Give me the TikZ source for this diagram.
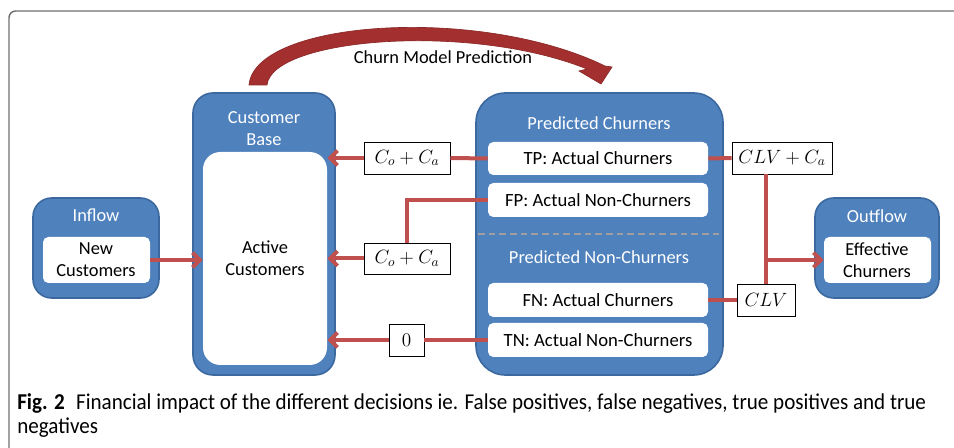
\documentclass[tikz,border=0pt]{standalone}
\usepackage{fontspec}
\setmainfont{Carlito}
\newfontfamily\capfont[FakeStretch=0.93]{Carlito}
\usetikzlibrary{arrows.meta,fit}
\definecolor{bfill}{HTML}{4F81BD}
\definecolor{bdraw}{HTML}{3A689F}
\definecolor{rline}{HTML}{C0504D}
\definecolor{darr}{HTML}{A3302F}
\definecolor{framecol}{HTML}{707070}
\begin{document}
\begin{tikzpicture}[x=0.75pt,y=-0.75pt,
  bluebox/.style={fill=bfill, draw=bdraw, line width=1.2pt, inner sep=0pt},
  whitebox/.style={fill=white, draw=none, inner sep=0pt, rounded corners=4pt},
  costbox/.style={fill=white, draw=black, line width=0.6pt, inner sep=0pt},
  txt/.style={font=\fontsize{13.8}{16.5}\selectfont, align=center, inner sep=0pt},
  btxt/.style={font=\fontsize{14}{16}\selectfont, align=center, inner sep=0pt},
  mtxt/.style={font=\fontsize{14}{16}\selectfont, align=center, inner sep=0pt},
  wtxt/.style={txt, text=white},
  conn/.style={draw=rline, line width=3pt},
  arr/.style={conn, -{Straight Barb[length=5.5pt,width=11pt]}}]
\useasboundingbox (0,0) rectangle (954,448);
% frame
\draw[framecol, line width=1.1pt, rounded corners=5pt] (9,449) -- (9,11) -- (955,11);
% curved arrow
\filldraw[fill=darr, draw=darr!85!black, line width=0.5pt]
  (249,85) .. controls (255,20) and (480,5) .. (605,66) -- (612,67) -- (601,84) -- (579,71) -- (587,69)
  .. controls (470,22) and (272,38) .. (267,85) -- cycle;
\node[txt] (cmp) at (443,57) {Churn Model Prediction};
% customer base
\node[bluebox, rounded corners=15pt, fit={(193,93)(335,375)}] (cb) {};
\node[whitebox, rounded corners=13pt, fit={(203,152)(327,365)}] (cbin) {};
\node[wtxt] (cbt) at (264,129) {Customer\\Base};
\node[txt] (act) at (265,258) {Active\\Customers};
% inflow
\node[bluebox, rounded corners=14pt, fit={(33,198)(159,298)}] (inf) {};
\node[whitebox, fit={(43,237)(150,283)}] (infin) {};
\node[wtxt] (inft) at (96,215) {Inflow};
\node[txt] (newc) at (96,260) {New\\Customers};
% outflow
\node[bluebox, rounded corners=14pt, fit={(815,198)(939,298)}] (out) {};
\node[whitebox, fit={(824,237)(931,283)}] (outin) {};
\node[wtxt] (outt) at (877,216) {Outflow};
\node[txt] (effc) at (877,260) {Effective\\Churners};
% predicted
\node[bluebox, rounded corners=22pt, fit={(476,93)(723,375)}] (pc) {};
\node[wtxt] (pct) at (599,123) {Predicted Churners};
\node[wtxt] (pnt) at (599,257) {Predicted Non-Churners};
\draw[draw=gray!75, line width=1.5pt, dash pattern=on 5pt off 3pt] (478,234) -- (721,234);
\node[whitebox, fit={(488,142)(708,175)}] (tp) {};
\node[btxt] (tpt) at (tp.center) {TP: Actual Churners};
\node[whitebox, fit={(488,183)(708,217)}] (fp) {};
\node[btxt] (fpt) at (fp.center) {FP: Actual Non-Churners};
\node[whitebox, fit={(488,283)(708,317)}] (fn) {};
\node[btxt] (fnt) at (fn.center) {FN: Actual Churners};
\node[whitebox, fit={(488,323)(708,357)}] (tn) {};
\node[btxt] (tnt) at (tn.center) {TN: Actual Non-Churners};
% cost boxes
\node[costbox, fit={(364,142)(450,174)}] (c1) {};
\node[mtxt] (c1t) at (c1.center) {$C_o + C_a$};
\node[costbox, fit={(364,243)(450,274)}] (c2) {};
\node[mtxt] (c2t) at (c2.center) {$C_o + C_a$};
\node[costbox, fit={(389,324)(424,356)}] (c0) {};
\node[mtxt] (c0t) at (c0.center) {$0$};
\node[costbox, fit={(732,142)(832,174)}] (clvca) {};
\node[mtxt] (clvcat) at (clvca.center) {$CLV + C_a$};
\node[costbox, fit={(737,284)(795,316)}] (clv) {};
\node[mtxt] (clvt) at (clv.center) {$CLV$};
% connectors
\draw[arr] (infin.east) -- (infin.east -| cbin.west);
\draw[conn] (tp.west) -- (c1.east);
\draw[arr] (c1.west) -- (c1.west -| cbin.east);
\draw[conn] (fp.west) -| (c2.north);
\draw[arr] (c2.west) -- (c2.west -| cbin.east);
\draw[conn] (tn.west) -- (c0.east);
\draw[arr] (c0.west) -- (c0.west -| cbin.east);
\draw[conn] (tp.east) -- (clvca.west);
\draw[conn] (fn.east) -- (clv.west);
\coordinate (j) at (766,260);
\draw[conn] (clvca.south -| j) -- (clv.north -| j);
\draw[arr] (j) -- (j -| outin.west);
% caption
\node[anchor=west, inner sep=0pt, font=\capfont\fontsize{17}{20}\selectfont] (cap1) at (17,403)
  {\textbf{Fig. 2}\enspace Financial impact of the different decisions ie. False positives, false negatives, true positives and true};
\node[anchor=west, inner sep=0pt, font=\capfont\fontsize{17}{20}\selectfont] (cap2) at (17,428) {negatives};
\end{tikzpicture}
\end{document}
